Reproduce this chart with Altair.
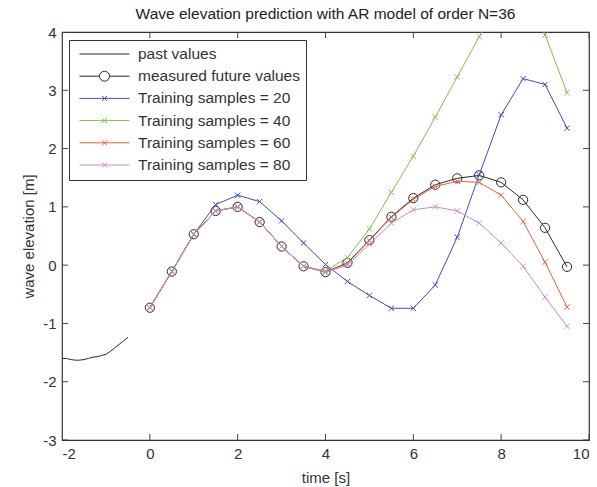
import altair as alt
import pandas as pd

# ---- data ----
t_past = [-2.0, -1.9, -1.8, -1.7, -1.6, -1.5, -1.4, -1.3, -1.2, -1.1, -1.0, -0.9, -0.8, -0.7, -0.6, -0.5]
v_past = [-1.60, -1.60, -1.62, -1.63, -1.63, -1.62, -1.60, -1.58, -1.57, -1.55, -1.53, -1.48, -1.42, -1.36, -1.30, -1.24]

t_future = [0.0, 0.5, 1.0, 1.5, 2.0, 2.5, 3.0, 3.5, 4.0, 4.5,
            5.0, 5.5, 6.0, 6.5, 7.0, 7.5, 8.0, 8.5, 9.0, 9.5]
measured = [-0.73, -0.11, 0.53, 0.93, 1.00, 0.74, 0.32, -0.02, -0.12, 0.04,
            0.43, 0.83, 1.15, 1.38, 1.49, 1.54, 1.42, 1.12, 0.64, -0.03]
pred_20 = [-0.73, -0.11, 0.53, 1.04, 1.20, 1.09, 0.76, 0.38, 0.01, -0.28,
           -0.52, -0.74, -0.74, -0.34, 0.48, 1.55, 2.58, 3.20, 3.10, 2.35]
pred_40 = [-0.73, -0.11, 0.53, 0.93, 1.00, 0.74, 0.32, -0.02, -0.10, 0.13,
           0.62, 1.25, 1.87, 2.54, 3.23, 3.92, 4.60, 4.90, 3.95, 2.96]
pred_60 = [-0.73, -0.11, 0.53, 0.93, 1.00, 0.74, 0.32, -0.02, -0.12, 0.03,
           0.42, 0.82, 1.13, 1.35, 1.44, 1.42, 1.20, 0.75, 0.05, -0.72]
pred_80 = [-0.73, -0.11, 0.53, 0.93, 1.00, 0.74, 0.32, -0.02, -0.12, 0.00,
           0.36, 0.72, 0.95, 1.00, 0.93, 0.72, 0.38, -0.02, -0.55, -1.05]

series_names = ["past values", "measured future values",
                "Training samples = 20", "Training samples = 40",
                "Training samples = 60", "Training samples = 80"]
series_colors = ["#2a2a2a", "#2a2a2a", "#4646c4", "#82c145", "#e8603c", "#c88bc8"]
legend_paths = [
    "M-1,0H1",
    "M-1,0H-0.2M0.2,0A0.2,0.2 0 1,1 -0.2,0A0.2,0.2 0 1,1 0.2,0M0.2,0H1",
    "M-1,0H1M-0.1,-0.1L0.1,0.1M-0.1,0.1L0.1,-0.1",
    "M-1,0H1M-0.1,-0.1L0.1,0.1M-0.1,0.1L0.1,-0.1",
    "M-1,0H1M-0.1,-0.1L0.1,0.1M-0.1,0.1L0.1,-0.1",
    "M-1,0H1M-0.1,-0.1L0.1,0.1M-0.1,0.1L0.1,-0.1",
]
x_ticks = [-2, 0, 2, 4, 6, 8, 10]
y_ticks = [-3, -2, -1, 0, 1, 2, 3, 4]

# ---- tables ----
rows = [{"series": series_names[0], "t": t, "v": v} for t, v in zip(t_past, v_past)]
for name, vals in zip(series_names[1:], [measured, pred_20, pred_40, pred_60, pred_80]):
    rows += [{"series": name, "t": t, "v": v} for t, v in zip(t_future, vals)]
df = pd.DataFrame(rows)
xt = pd.DataFrame({"tick": x_ticks})
yt = pd.DataFrame({"tick": y_ticks})

FONT = "Liberation Sans"
TXT = "#333333"
xscale = alt.Scale(domain=[-2, 10], nice=False, zero=False)
yscale = alt.Scale(domain=[-3, 4], nice=False, zero=False)
cscale = alt.Scale(domain=series_names, range=series_colors)

x_axis = alt.Axis(values=x_ticks, title="time [s]", labelPadding=6, titlePadding=9,
                  labelExpr="'' + datum.value")
y_axis = alt.Axis(values=y_ticks, title="wave elevation [m]", labelPadding=6, titlePadding=6,
                  labelExpr="'' + datum.value")
x_enc = alt.X("t:Q", scale=xscale, axis=x_axis)
y_enc = alt.Y("v:Q", scale=yscale, axis=y_axis)

base = alt.Chart(df)
layers = []
cross = "M-1,-1L1,1M-1,1L1,-1"
for i, name in enumerate(series_names):
    sub = base.transform_filter(alt.datum.series == name)
    col = series_colors[i]
    layers.append(sub.mark_line(clip=True, strokeWidth=1, color=col).encode(x=x_enc, y=y_enc))
    if i == 1:
        layers.append(sub.mark_point(clip=True, shape="circle", size=85, filled=False,
                                     strokeWidth=1, opacity=1, color=col).encode(x=x_enc, y=y_enc))
    elif i > 1:
        layers.append(sub.mark_point(clip=True, shape=cross, size=28, filled=False,
                                     strokeWidth=1, opacity=1, color=col).encode(x=x_enc, y=y_enc))

# legend-only layer (draws no marks)
leg = alt.Legend(orient="none", legendX=7, legendY=8, title=None,
                 symbolSize=2500, clipHeight=16, rowPadding=5.2, labelOffset=8, symbolOffset=4,
                 padding=6, fillColor="white", strokeColor="#333333",
                 labelFontSize=15.5, labelFont=FONT, labelColor=TXT, symbolStrokeWidth=1,
                 labelLimit=400)
layers.append(
    base.transform_filter("false").mark_point(filled=False, opacity=1, strokeWidth=1).encode(
        x=x_enc, y=y_enc,
        color=alt.Color("series:N", scale=cscale, legend=leg),
        shape=alt.Shape("series:N", scale=alt.Scale(domain=series_names, range=legend_paths), legend=leg),
    )
)

# inward ticks on all four sides (MATLAB box style)
tick_style = dict(clip=True, size=12, thickness=1, color="#444444", opacity=1)
for yv in [-3, 4]:
    layers.append(alt.Chart(xt).mark_tick(orient="vertical", **tick_style).encode(
        x=alt.X("tick:Q", scale=xscale, axis=x_axis), y=alt.Y(datum=yv, scale=yscale, axis=y_axis)))
for xv in [-2, 10]:
    layers.append(alt.Chart(yt).mark_tick(orient="horizontal", **tick_style).encode(
        y=alt.Y("tick:Q", scale=yscale, axis=y_axis), x=alt.X(datum=xv, scale=xscale, axis=x_axis)))

chart = alt.layer(*layers).properties(
    width=527, height=408,
    padding={"left": 62, "top": 32, "right": 8, "bottom": 47},
    autosize=alt.AutoSizeParams(type="none"),
    background="white",
    title=alt.TitleParams("Wave elevation prediction with AR model of order N=36",
                          font=FONT, fontSize=15.5, fontWeight="normal", color="#222222",
                          anchor="middle", offset=3),
).configure_view(stroke="#333333", strokeWidth=1.2).configure_axis(
    domain=False, ticks=False, grid=False,
    labelFont=FONT, labelFontSize=15, labelColor=TXT,
    titleFont=FONT, titleFontSize=15, titleFontWeight="normal", titleColor=TXT,
)

chart.save("out.html", embed_options={"renderer": "svg", "actions": False})
